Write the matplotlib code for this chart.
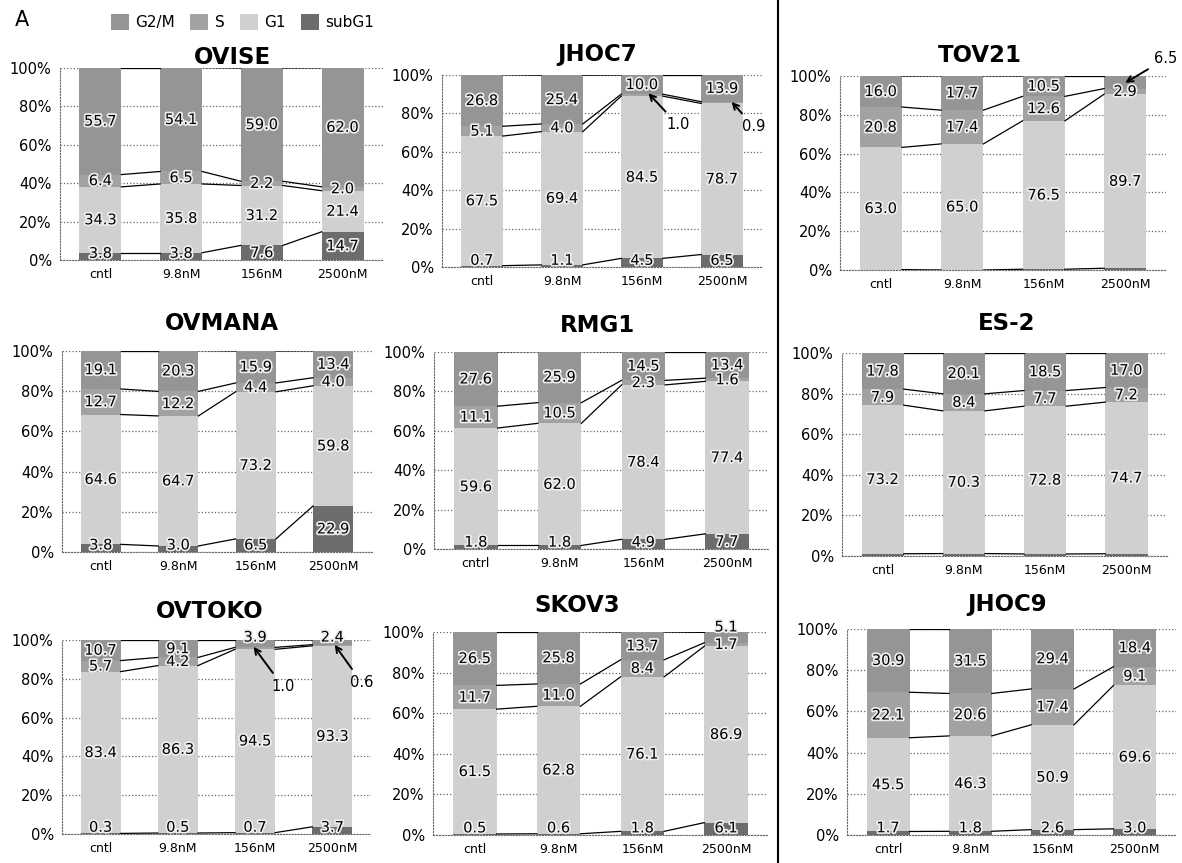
import matplotlib
matplotlib.use('Agg')
import matplotlib.pyplot as plt
import matplotlib.patheffects as pe
from matplotlib.lines import Line2D
import numpy as np

W, H = 1182, 863

doses = ['cntl', '9.8nM', '156nM', '2500nM']
doses_r = ['cntrl', '9.8nM', '156nM', '2500nM']
phases = ['subG1', 'G1', 'S', 'G2/M']

# cell cycle fractions (%) per cell line, one list per phase
ovise_sub = [3.8, 3.8, 7.6, 14.7]
ovise_g1 = [34.3, 35.8, 31.2, 21.4]
ovise_s = [6.4, 6.5, 2.2, 2.0]
ovise_g2m = [55.7, 54.1, 59.0, 62.0]

jhoc7_sub = [0.7, 1.1, 4.5, 6.5]
jhoc7_g1 = [67.5, 69.4, 84.5, 78.7]
jhoc7_s = [5.1, 4.0, 1.0, 0.9]
jhoc7_g2m = [26.8, 25.4, 10.0, 13.9]

tov21_sub = [0.2, 0.0, 0.4, 0.9]
tov21_g1 = [63.0, 65.0, 76.5, 89.7]
tov21_s = [20.8, 17.4, 12.6, 2.9]
tov21_g2m = [16.0, 17.7, 10.5, 6.5]

ovmana_sub = [3.8, 3.0, 6.5, 22.9]
ovmana_g1 = [64.6, 64.7, 73.2, 59.8]
ovmana_s = [12.7, 12.2, 4.4, 4.0]
ovmana_g2m = [19.1, 20.3, 15.9, 13.4]

rmg1_sub = [1.8, 1.8, 4.9, 7.7]
rmg1_g1 = [59.6, 62.0, 78.4, 77.4]
rmg1_s = [11.1, 10.5, 2.3, 1.6]
rmg1_g2m = [27.6, 25.9, 14.5, 13.4]

es2_sub = [1.1, 1.2, 1.0, 1.1]
es2_g1 = [73.2, 70.3, 72.8, 74.7]
es2_s = [7.9, 8.4, 7.7, 7.2]
es2_g2m = [17.8, 20.1, 18.5, 17.0]

ovtoko_sub = [0.3, 0.5, 0.7, 3.7]
ovtoko_g1 = [83.4, 86.3, 94.5, 93.3]
ovtoko_s = [5.7, 4.2, 1.0, 0.6]
ovtoko_g2m = [10.7, 9.1, 3.9, 2.4]

skov3_sub = [0.5, 0.6, 1.8, 6.1]
skov3_g1 = [61.5, 62.8, 76.1, 86.9]
skov3_s = [11.7, 11.0, 8.4, 1.7]
skov3_g2m = [26.5, 25.8, 13.7, 5.1]

jhoc9_sub = [1.7, 1.8, 2.6, 3.0]
jhoc9_g1 = [45.5, 46.3, 50.9, 69.6]
jhoc9_s = [22.1, 20.6, 17.4, 9.1]
jhoc9_g2m = [30.9, 31.5, 29.4, 18.4]

colors = {'subG1': '#6c6c6c', 'G1': '#d0d0d0', 'S': '#a2a2a2', 'G2/M': '#959595'}
bw = 0.52

# name, x labels, series, axes box in px (left, right, top, bottom), title centre px,
# label the subG1 segment?, moved labels {(phase, i): (tx, ty, arrow tip or None)}
panels = [
    ('OVISE', doses, [ovise_sub, ovise_g1, ovise_s, ovise_g2m],
     (60, 383, 68, 260), (232, 57), True, {}),
    ('JHOC7', doses, [jhoc7_sub, jhoc7_g1, jhoc7_s, jhoc7_g2m],
     (442, 762, 75, 267), (597, 55), True,
     {('S', 2): (2.45, 74, (2.08, 90.5)), ('S', 3): (3.4, 73, (3.12, 86))}),
    ('TOV21', doses, [tov21_sub, tov21_g1, tov21_s, tov21_g2m],
     (840, 1166, 76, 270), (980, 55), False,
     {('G2/M', 3): (3.5, 109, (3.0, 96.5))}),
    ('OVMANA', doses, [ovmana_sub, ovmana_g1, ovmana_s, ovmana_g2m],
     (62, 372, 351, 552), (222, 323), True, {}),
    ('RMG1', doses_r, [rmg1_sub, rmg1_g1, rmg1_s, rmg1_g2m],
     (434, 769, 352, 549), (598, 325), True, {}),
    ('ES-2', doses, [es2_sub, es2_g1, es2_s, es2_g2m],
     (842, 1167, 353, 556), (1007, 323), False, {}),
    ('OVTOKO', doses, [ovtoko_sub, ovtoko_g1, ovtoko_s, ovtoko_g2m],
     (62, 371, 640, 834), (210, 612), True,
     {('S', 2): (2.36, 76, (1.98, 96.5)), ('S', 3): (3.38, 78, (3.03, 97.5)),
      ('G2/M', 2): (2.0, 101.5, None), ('G2/M', 3): (3.0, 101.5, None)}),
    ('SKOV3', doses, [skov3_sub, skov3_g1, skov3_s, skov3_g2m],
     (433, 768, 632, 835), (577, 605), True,
     {('G2/M', 3): (3.0, 102.5, None)}),
    ('JHOC9', doses_r, [jhoc9_sub, jhoc9_g1, jhoc9_s, jhoc9_g2m],
     (847, 1176, 629, 835), (1007, 605), True, {}),
]

plt.rcParams['font.family'] = 'DejaVu Sans'
fig = plt.figure(figsize=(W / 100, H / 100), dpi=100)
halo = [pe.withStroke(linewidth=2.5, foreground='#eeeeee')]

for name, labels, series, box, tpos, show_sub, moved in panels:
    l, r, t, b = box
    ax = fig.add_axes([l / W, 1 - b / H, (r - l) / W, (b - t) / H])
    x = np.arange(len(labels))
    bottom = np.zeros(len(labels))
    for phase, vals in zip(phases, series):
        vals = np.array(vals)
        ax.bar(x, vals, bottom=bottom, width=bw, color=colors[phase],
               zorder=2, label=phase)
        top = bottom + vals
        # series lines between neighbouring bars
        for i in range(len(x) - 1):
            ax.plot([x[i] + bw / 2, x[i + 1] - bw / 2], [top[i], top[i + 1]],
                    color='black', lw=0.9, zorder=3)
        for i in range(len(x)):
            if phase == 'subG1' and not show_sub:
                continue
            txt = f'{vals[i]:.1f}'
            if (phase, i) in moved:
                tx, ty, tip = moved[(phase, i)]
                if tip is None:
                    ax.text(tx, ty, txt, ha='center', va='center', fontsize=10.5,
                            zorder=5, path_effects=halo, clip_on=False)
                else:
                    ax.annotate(txt, xy=tip, xytext=(tx, ty), ha='center',
                                va='center', fontsize=10.5, zorder=5,
                                annotation_clip=False,
                                arrowprops=dict(arrowstyle='->', lw=1.4,
                                                color='black', shrinkA=3,
                                                shrinkB=0))
                continue
            y = bottom[i] + vals[i] / 2
            if phase == 'subG1':
                y = max(y, 3.5)
            ax.text(x[i], y, txt, ha='center', va='center', fontsize=10.5,
                    zorder=5, path_effects=halo)
        bottom = top

    ax.set_xlim(-0.5, len(labels) - 0.5)
    ax.set_ylim(0, 100)
    ax.set_yticks([0, 20, 40, 60, 80, 100])
    ax.set_yticklabels([f'{v}%' for v in [0, 20, 40, 60, 80, 100]], fontsize=10.5)
    ax.set_xticks(x)
    ax.set_xticklabels(labels, fontsize=9)
    ax.tick_params(length=0)
    ax.tick_params(axis='y', pad=6)
    ax.tick_params(axis='x', pad=6)
    ax.yaxis.grid(True, linestyle=':', color='#666666', lw=0.9, zorder=0)
    ax.set_axisbelow(True)
    for side in ['top', 'right']:
        ax.spines[side].set_visible(False)
    for side in ['left', 'bottom']:
        ax.spines[side].set_linestyle(':')
        ax.spines[side].set_color('#666666')
    fig.text(tpos[0] / W, 1 - tpos[1] / H, name, ha='center', va='center',
             fontsize=16.5, fontweight='bold')

    if name == 'OVISE':
        handles, names = ax.get_legend_handles_labels()

# legend in the order G2/M, S, G1, subG1
fig.legend(handles[::-1], names[::-1], loc='center left', ncol=4,
           bbox_to_anchor=(103 / W, 1 - 22 / H), frameon=False, fontsize=11,
           handlelength=1.2, handleheight=1.3, handletextpad=0.4,
           columnspacing=1.0, borderpad=0)

fig.text(22 / W, 1 - 20 / H, 'A', ha='center', va='center', fontsize=15)
fig.add_artist(Line2D([778 / W, 778 / W], [0, 1], color='black', lw=1.5))

fig.savefig('out.png', dpi=100)
